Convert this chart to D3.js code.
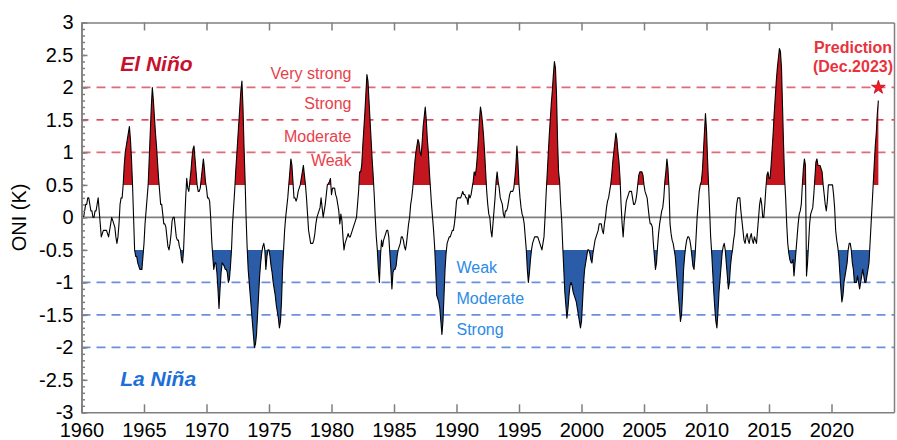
<!DOCTYPE html>
<meta charset="utf-8">
<style>
  body { margin: 0; background: #fff; }
  svg { font-family: "Liberation Sans", Arial, sans-serif; }
  .axis path, .axis line { stroke: #7f7f7f; stroke-width: 1.5; }
  .axis text { font-size: 20px; fill: #000; font-family: "Liberation Sans", Arial, sans-serif; }
</style>
<svg width="897" height="440"></svg>
<script src="https://cdn.jsdelivr.net/npm/d3@7"></script>
<script>

// ONI, one value per running 3-month season, DJF 1960 .. SON 2023
var startYear = 1960;
var oni1960s = [
  -0.1, 0.0, 0.0, 0.1, 0.2, 0.2, 0.3, 0.3, 0.2, 0.1, 0.1, 0.0,
  0.0, 0.1, 0.1, 0.2, 0.3, 0.1, -0.1, -0.3, -0.25, -0.2, -0.2, -0.2,
  -0.2, -0.25, -0.3, -0.2, -0.1, 0.0, -0.05, -0.1, -0.15, -0.3, -0.4, -0.3,
  -0.1, 0.2, 0.3, 0.3, 0.5, 0.8, 1.0, 1.1, 1.2, 1.3, 1.4, 1.2,
  0.9, 0.5, 0.0, -0.5, -0.6, -0.6, -0.7, -0.75, -0.8, -0.8, -0.8, -0.6,
  -0.4, -0.1, 0.1, 0.3, 0.5, 0.9, 1.3, 1.7, 2.0, 1.8, 1.55, 1.3,
  1.1, 0.85, 0.6, 0.4, 0.2, 0.2, 0.05, -0.1, -0.1, -0.15, -0.3, -0.45,
  -0.5, -0.4, -0.25, -0.05, 0.0, 0.0, -0.15, -0.3, -0.35, -0.35, -0.45, -0.5,
  -0.65, -0.7, -0.5, -0.1, 0.3, 0.6, 0.45, 0.4, 0.55, 0.7, 0.9, 1.05,
  1.1, 0.9, 0.7, 0.5, 0.4, 0.4, 0.45, 0.6, 0.75, 0.9, 0.75, 0.55
];
var oni1970s = [
  0.45, 0.3, 0.3, 0.25, 0.0, -0.35, -0.6, -0.8, -0.7, -0.7, -0.85, -1.1,
  -1.4, -1.1, -0.85, -0.7, -0.72, -0.75, -0.8, -0.8, -0.85, -1.0, -0.95, -0.75,
  -0.5, -0.1, 0.15, 0.4, 0.7, 0.95, 1.2, 1.45, 1.7, 1.95, 2.1, 1.7,
  1.1, 0.6, 0.0, -0.45, -0.8, -1.0, -1.2, -1.4, -1.6, -1.8, -2.0, -1.95,
  -1.8, -1.5, -1.2, -0.9, -0.7, -0.55, -0.45, -0.4, -0.5, -0.8, -0.6, -0.5,
  -0.5, -0.6, -0.75, -0.85, -1.0, -1.1, -1.2, -1.35, -1.45, -1.55, -1.7, -1.6,
  -1.3, -0.8, -0.5, -0.2, 0.0, 0.15, 0.3, 0.5, 0.7, 0.9, 0.8, 0.55,
  0.3, 0.3, 0.25, 0.3, 0.4, 0.45, 0.5, 0.6, 0.7, 0.8, 0.65, 0.5,
  0.3, 0.05, -0.2, -0.3, -0.4, -0.4, -0.4, -0.35, -0.25, -0.1, 0.0, 0.05,
  0.1, 0.15, 0.3, 0.15, 0.0, 0.1, 0.2, 0.35, 0.5, 0.52, 0.55, 0.6
];
var oni1980s = [
  0.35, 0.45, 0.45, 0.45, 0.35, 0.3, 0.2, 0.1, -0.1, 0.05, -0.05, -0.3,
  -0.5, -0.4, -0.35, -0.3, -0.25, -0.3, -0.3, -0.25, -0.2, -0.15, -0.1, -0.05,
  0.0, 0.2, 0.4, 0.7, 0.7, 0.8, 1.1, 1.35, 1.6, 1.9, 2.2, 2.1,
  1.8, 1.5, 1.2, 0.9, 0.65, 0.35, 0.0, -0.3, -0.5, -0.8, -1.0, -0.6,
  -0.35, -0.45, -0.35, -0.3, -0.25, -0.2, -0.2, -0.3, -0.55, -0.8, -1.1, -0.85,
  -0.8, -0.8, -0.75, -0.6, -0.5, -0.45, -0.4, -0.3, -0.3, -0.35, -0.45, -0.5,
  -0.4, -0.25, -0.1, 0.0, 0.2, 0.3, 0.45, 0.65, 0.85, 1.0, 1.1, 1.2,
  1.15, 1.0, 0.95, 1.15, 1.4, 1.55, 1.7, 1.5, 1.2, 1.0, 0.7, 0.45,
  0.2, 0.0, -0.2, -0.45, -0.8, -1.2, -1.25, -1.3, -1.4, -1.6, -1.8, -1.6,
  -1.2, -0.8, -0.55, -0.4, -0.35, -0.3, -0.3, -0.25, -0.2, -0.2, -0.1, 0.05
];
var oni1990s = [
  0.25, 0.3, 0.3, 0.3, 0.3, 0.35, 0.4, 0.35, 0.35, 0.3, 0.3, 0.2,
  0.35, 0.3, 0.35, 0.45, 0.55, 0.7, 0.65, 0.75, 0.95, 1.2, 1.5, 1.7,
  1.6, 1.45, 1.25, 1.0, 0.7, 0.4, 0.2, 0.05, 0.0, -0.2, -0.3, -0.1,
  0.1, 0.3, 0.55, 0.7, 0.55, 0.45, 0.3, 0.25, 0.2, 0.05, 0.0, 0.1,
  0.1, 0.15, 0.25, 0.35, 0.4, 0.4, 0.4, 0.45, 0.6, 0.8, 1.1, 0.85,
  0.5, 0.3, 0.15, 0.05, 0.0, -0.1, -0.3, -0.5, -0.8, -1.0, -0.85, -0.65,
  -0.5, -0.4, -0.35, -0.3, -0.3, -0.3, -0.3, -0.35, -0.4, -0.45, -0.5, -0.4,
  -0.3, 0.0, 0.35, 0.65, 0.95, 1.25, 1.5, 1.75, 1.95, 2.2, 2.4, 2.3,
  1.9, 1.2, 0.7, 0.55, 0.2, -0.05, -0.45, -0.8, -1.15, -1.35, -1.55, -1.4,
  -1.2, -1.05, -1.0, -1.05, -1.15, -1.2, -1.25, -1.3, -1.4, -1.5, -1.6, -1.7
];
var oni2000s = [
  -1.6, -1.3, -1.0, -0.8, -0.7, -0.6, -0.5, -0.5, -0.55, -0.65, -0.7, -0.55,
  -0.45, -0.35, -0.3, -0.25, -0.2, -0.1, -0.1, -0.1, -0.2, -0.25, -0.1, 0.0,
  0.15, 0.25, 0.3, 0.4, 0.5, 0.65, 0.85, 1.0, 1.15, 1.3, 1.2, 1.0,
  0.85, 0.6, 0.2, -0.1, -0.3, -0.05, 0.1, 0.25, 0.3, 0.35, 0.4, 0.4,
  0.4, 0.3, 0.2, 0.2, 0.25, 0.35, 0.5, 0.65, 0.7, 0.7, 0.7, 0.65,
  0.5, 0.4, 0.35, 0.3, 0.15, 0.0, -0.1, -0.1, -0.15, -0.4, -0.6, -0.8,
  -0.7, -0.45, -0.25, -0.1, 0.0, 0.1, 0.15, 0.3, 0.55, 0.7, 0.9, 0.75,
  0.45, -0.1, -0.25, -0.35, -0.4, -0.5, -0.6, -0.8, -1.0, -1.2, -1.4, -1.6,
  -1.5, -1.2, -0.8, -0.6, -0.45, -0.35, -0.3, -0.3, -0.35, -0.45, -0.6, -0.75,
  -0.8, -0.6, -0.3, 0.0, 0.2, 0.4, 0.5, 0.55, 0.7, 1.0, 1.3, 1.6
];
var oni2010s = [
  1.35, 0.9, 0.5, 0.1, -0.3, -0.55, -0.85, -1.15, -1.4, -1.6, -1.7, -1.45,
  -1.15, -0.95, -0.75, -0.55, -0.45, -0.4, -0.5, -0.7, -0.9, -1.1, -1.0, -0.75,
  -0.6, -0.5, -0.35, -0.25, 0.0, 0.2, 0.3, 0.3, 0.3, 0.1, -0.05, -0.2,
  -0.35, -0.4, -0.3, -0.25, -0.35, -0.4, -0.3, -0.25, -0.35, -0.4, -0.3, -0.35,
  -0.4, -0.2, 0.0, 0.2, 0.3, 0.2, 0.0, 0.0, 0.2, 0.45, 0.65, 0.7,
  0.6, 0.6, 0.8, 1.05, 1.3, 1.6, 1.85, 2.1, 2.3, 2.45, 2.6, 2.55,
  2.3, 1.7, 1.1, 0.6, 0.3, -0.1, -0.4, -0.55, -0.65, -0.7, -0.7, -0.65,
  -0.9, -0.7, -0.5, -0.3, -0.1, 0.05, 0.1, 0.2, 0.5, 0.75, 0.9, 0.8,
  -0.9, -0.7, -0.4, -0.1, 0.05, 0.1, 0.15, 0.35, 0.6, 0.85, 0.9, 0.8,
  0.8, 0.8, 0.75, 0.7, 0.5, 0.35, 0.2, 0.1, 0.25, 0.5, 0.5, 0.5
];
var oni2020s = [
  0.5, 0.5, 0.35, 0.15, -0.2, -0.35, -0.45, -0.6, -0.85, -1.1, -1.3, -1.2,
  -1.0, -0.9, -0.8, -0.7, -0.5, -0.4, -0.4, -0.5, -0.7, -0.8, -1.0, -1.0,
  -1.0, -0.9, -1.0, -1.1, -1.0, -0.9, -0.8, -0.9, -1.0, -1.0, -0.9, -0.8,
  -0.7, -0.4, -0.1, 0.2, 0.5, 0.8, 1.1, 1.3, 1.6, 1.8
];
var predictionValue = 2.0;

var xTicks = [1960, 1965, 1970, 1975, 1980, 1985, 1990, 1995, 2000, 2005, 2010, 2015, 2020];
var yTicks = [-3, -2.5, -2, -1.5, -1, -0.5, 0, 0.5, 1, 1.5, 2, 2.5, 3];
var ninoLevels = [1, 1.5, 2];
var ninaLevels = [-1, -1.5, -2];
var ninoNames = ["Weak", "Moderate", "Strong", "Very strong"];
var ninaNames = ["Weak", "Moderate", "Strong"];

var svg = d3.select("svg");
var x = d3.scaleLinear().domain([1960, 2025]).range([81.5, 894]);
var y = d3.scaleLinear().domain([-3, 3]).range([412.3, 22.5]);

var oni = [].concat(oni1960s, oni1970s, oni1980s, oni1990s, oni2000s, oni2010s, oni2020s);
var series = oni.map(function(v, i) { return {t: startYear + i / 12, v: v}; });

// clips for the shaded parts above 0.5 and below -0.5
var defs = svg.append("defs");
defs.append("clipPath").attr("id", "clipNino").append("rect")
    .attr("x", x(1960)).attr("y", y(3))
    .attr("width", x(2025) - x(1960)).attr("height", y(0.5) - y(3));
defs.append("clipPath").attr("id", "clipNina").append("rect")
    .attr("x", x(1960)).attr("y", y(-0.5))
    .attr("width", x(2025) - x(1960)).attr("height", y(-3) - y(-0.5));

// dashed strength lines
svg.append("g").selectAll("line")
  .data(ninoLevels)
  .enter().append("line")
    .attr("x1", x(1960)).attr("x2", x(2025))
    .attr("y1", function(d) { return y(d); })
    .attr("y2", function(d) { return y(d); })
    .attr("stroke", function(d) { return d == 1.5 ? "#d40a2e" : "#de6a7a"; })
    .attr("stroke-width", function(d) { return d == 1.5 ? 1.2 : 1.7; })
    .attr("stroke-dasharray", function(d) { return d == 1.5 ? "7,8" : "9,6"; });

svg.append("g").selectAll("line")
  .data(ninaLevels)
  .enter().append("line")
    .attr("x1", x(1960)).attr("x2", x(2025))
    .attr("y1", function(d) { return y(d); })
    .attr("y2", function(d) { return y(d); })
    .attr("stroke", "#6b8fdc")
    .attr("stroke-width", 1.6)
    .attr("stroke-dasharray", "9,6");

// shaded events
svg.append("path")
    .datum(series)
    .attr("clip-path", "url(#clipNino)")
    .attr("fill", "#c4161e")
    .attr("d", d3.area().x(function(d) { return x(d.t); }).y0(y(0.5)).y1(function(d) { return y(d.v); }));

svg.append("path")
    .datum(series)
    .attr("clip-path", "url(#clipNina)")
    .attr("fill", "#2b5ca8")
    .attr("d", d3.area().x(function(d) { return x(d.t); }).y0(y(-0.5)).y1(function(d) { return y(d.v); }));

// zero line
svg.append("line")
    .attr("x1", x(1960)).attr("x2", x(2025))
    .attr("y1", y(0)).attr("y2", y(0))
    .attr("stroke", "#7f7f7f").attr("stroke-width", 1.6);

// ONI line
svg.append("path")
    .datum(series)
    .attr("fill", "none")
    .attr("stroke", "#000")
    .attr("stroke-width", 1.1)
    .attr("stroke-linejoin", "round")
    .attr("d", d3.line().x(function(d) { return x(d.t); }).y(function(d) { return y(d.v); }));

// axes / frame
svg.append("g").attr("class", "axis")
    .attr("transform", "translate(0," + y(-3) + ")")
    .call(d3.axisBottom(x).tickValues(xTicks).tickSize(-8).tickSizeOuter(0).tickPadding(11).tickFormat(d3.format("d")));

svg.append("g").attr("class", "axis")
    .attr("transform", "translate(0," + y(3) + ")")
    .call(d3.axisTop(x).tickValues(xTicks).tickSize(-8).tickSizeOuter(0).tickFormat(""));

svg.append("g").attr("class", "axis")
    .attr("transform", "translate(" + x(1960) + ",0)")
    .call(d3.axisLeft(y).tickValues(d3.range(-30, 31).map(function(i) { return i / 10; }))
      .tickSize(-3.5).tickSizeOuter(0).tickFormat(""));

svg.append("g").attr("class", "axis")
    .attr("transform", "translate(" + x(1960) + ",0)")
    .call(d3.axisLeft(y).tickValues(yTicks).tickSize(-6).tickSizeOuter(0).tickPadding(8)
      .tickFormat(function(d) { return String(d); }));

svg.append("g").attr("class", "axis")
    .attr("transform", "translate(" + x(2025) + ",0)")
    .call(d3.axisRight(y).tickValues([]).tickSizeOuter(0));

svg.append("text")
    .attr("transform", "translate(18.5," + y(0) + ") rotate(-90)")
    .attr("text-anchor", "middle")
    .attr("dominant-baseline", "central")
    .attr("font-size", 20)
    .text("ONI (K)");

// annotations
svg.append("text")
    .attr("x", x(1963.1)).attr("y", y(2.26))
    .attr("font-size", 21).attr("font-weight", "bold").attr("font-style", "italic")
    .attr("fill", "#c8102e")
    .text("El Niño");

svg.append("text")
    .attr("x", x(1963.1)).attr("y", y(-2.59))
    .attr("font-size", 21).attr("font-weight", "bold").attr("font-style", "italic")
    .attr("fill", "#1c6fd8")
    .text("La Niña");

var ninoLabelAt = [0.87, 1.25, 1.75, 2.21];
svg.append("g").selectAll("text")
  .data(ninoNames)
  .enter().append("text")
    .attr("x", x(1981.6))
    .attr("y", function(d, i) { return y(ninoLabelAt[i]); })
    .attr("text-anchor", "end")
    .attr("dominant-baseline", "central")
    .attr("font-size", 16)
    .attr("fill", "#e8414b")
    .text(function(d) { return d; });

var ninaLabelAt = [-0.77, -1.25, -1.73];
svg.append("g").selectAll("text")
  .data(ninaNames)
  .enter().append("text")
    .attr("x", x(1990))
    .attr("y", function(d, i) { return y(ninaLabelAt[i]); })
    .attr("text-anchor", "start")
    .attr("dominant-baseline", "central")
    .attr("font-size", 16)
    .attr("fill", "#2b8be6")
    .text(function(d) { return d; });

var lastT = series[series.length - 1].t;
svg.append("path")
    .attr("d", d3.symbol().type(d3.symbolStar).size(58)())
    .attr("transform", "translate(" + x(lastT) + "," + y(predictionValue) + ")")
    .attr("fill", "#f41c26")
    .attr("stroke", "#b0000f")
    .attr("stroke-width", 0.7);

svg.append("text")
    .attr("x", x(2021.72)).attr("y", y(2.525))
    .attr("text-anchor", "middle")
    .attr("font-size", 16).attr("font-weight", "bold")
    .attr("fill", "#e8333d")
    .text("Prediction");
svg.append("text")
    .attr("x", x(2021.72)).attr("y", y(2.24))
    .attr("text-anchor", "middle")
    .attr("font-size", 16).attr("font-weight", "bold")
    .attr("fill", "#e8333d")
    .text("(Dec.2023)");

</script>
